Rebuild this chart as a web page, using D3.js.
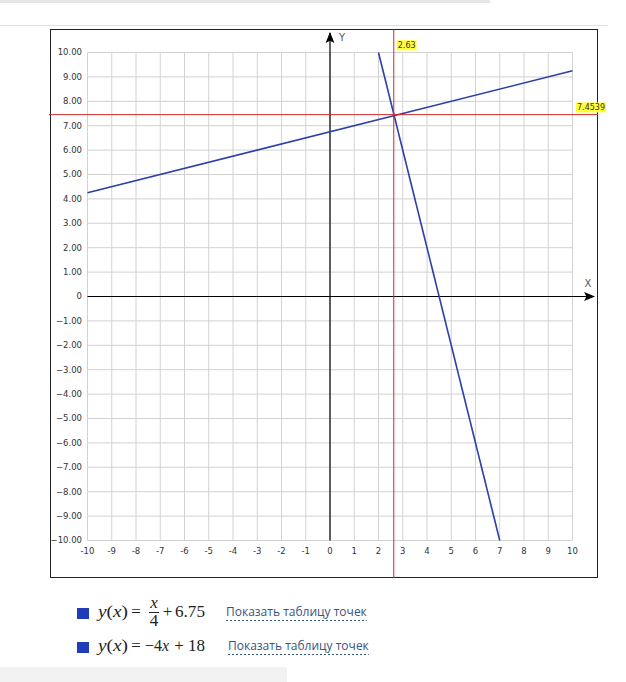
<!DOCTYPE html>
<html>
<head>
<meta charset="utf-8">
<script src="https://cdn.jsdelivr.net/npm/d3@7/dist/d3.min.js"></script>
<style>
  body { margin: 0; background: #fff; }
  svg { display: block; }
</style>
</head>
<body>
<svg id="chart" width="626" height="682"></svg>
<script>
// axis ranges and ticks
const xTicks = [-10, -9, -8, -7, -6, -5, -4, -3, -2, -1, 0, 1, 2, 3, 4, 5, 6, 7, 8, 9, 10];
const yTicks = [10, 9, 8, 7, 6, 5, 4, 3, 2, 1, 0, -1, -2, -3, -4, -5, -6, -7, -8, -9, -10];

// the two plotted functions (end points)
const line1 = [{ x: -10, y: 4.25 }, { x: 10, y: 9.25 }];
const line2 = [{ x: 2, y: 10 }, { x: 7, y: -10 }];

// crossing point markers
const crossX = 2.63;
const crossY = 7.4539;

const legendRows = ["y(x) = x/4 + 6.75", "y(x) = −4x + 18"];
const linkText = "Показать таблицу точек";

const svg = d3.select("#chart");

const x = d3.scaleLinear().domain([-10, 10]).range([87.5, 572.5]);
const y = d3.scaleLinear().domain([-10, 10]).range([540.5, 52.5]);

// page decorations
svg.append("rect").attr("x", 0).attr("y", 0).attr("width", 490).attr("height", 3).attr("fill", "#e6e6e6");
svg.append("line").attr("x1", 0).attr("x2", 608).attr("y1", 25.5).attr("y2", 25.5)
  .attr("stroke", "#e2e2e2");
svg.append("rect").attr("x", 0).attr("y", 667).attr("width", 287).attr("height", 15).attr("fill", "#f2f2f2");

// frame
svg.append("rect").attr("x", 50.5).attr("y", 29.5).attr("width", 547).attr("height", 548)
  .attr("fill", "#fff").attr("stroke", "#222").attr("stroke-width", 1);

const g = svg.append("g");

// grid
g.selectAll(".gx").data(xTicks).enter().append("line")
  .attr("x1", d => x(d)).attr("x2", d => x(d))
  .attr("y1", y(10)).attr("y2", y(-10))
  .attr("stroke", "#d2d2d2").attr("stroke-width", 1);
g.selectAll(".gy").data(yTicks).enter().append("line")
  .attr("y1", d => y(d)).attr("y2", d => y(d))
  .attr("x1", x(-10)).attr("x2", x(10))
  .attr("stroke", "#d2d2d2").attr("stroke-width", 1);

// tick labels
g.selectAll(".ty").data(yTicks).enter().append("text")
  .attr("x", 82).attr("y", d => y(d)).attr("dy", "0.35em")
  .attr("text-anchor", "end")
  .style("font", "8.5px 'DejaVu Sans', Verdana, sans-serif").attr("fill", "#333")
  .text(d => d === 0 ? "0" : d3.format(".2f")(d));
g.selectAll(".tx").data(xTicks).enter().append("text")
  .attr("x", d => x(d)).attr("y", 551).attr("dy", "0.35em")
  .attr("text-anchor", "middle")
  .style("font", "8.5px 'DejaVu Sans', Verdana, sans-serif").attr("fill", "#333")
  .text(d => d);

// axes with arrows
const defs = svg.append("defs");
defs.append("marker").attr("id", "arrow").attr("viewBox", "0 0 10 10")
  .attr("refX", 9).attr("refY", 5).attr("markerWidth", 11).attr("markerHeight", 11)
  .attr("markerUnits", "userSpaceOnUse").attr("orient", "auto")
  .append("path").attr("d", "M0,1 L10,5 L0,9 L2,5 Z").attr("fill", "#000");

g.append("line").attr("x1", x(-10)).attr("x2", 594).attr("y1", y(0)).attr("y2", y(0))
  .attr("stroke", "#000").attr("stroke-width", 1.2).attr("marker-end", "url(#arrow)");
g.append("line").attr("x1", x(0)).attr("x2", x(0)).attr("y1", y(-10)).attr("y2", 33)
  .attr("stroke", "#000").attr("stroke-width", 1.2).attr("marker-end", "url(#arrow)");

g.append("text").attr("x", 588).attr("y", 283).attr("dy", "0.35em").attr("text-anchor", "middle")
  .style("font", "10px 'DejaVu Sans', Verdana, sans-serif").attr("fill", "#555").text("X");
g.append("text").attr("x", 342).attr("y", 37).attr("dy", "0.35em").attr("text-anchor", "middle")
  .style("font", "10px 'DejaVu Sans', Verdana, sans-serif").attr("fill", "#555").text("Y");

// function lines
const lineGen = d3.line().x(d => x(d.x)).y(d => y(d.y));
[line1, line2].forEach(pts => {
  g.append("path").attr("d", lineGen(pts)).attr("fill", "none")
    .attr("stroke", "#2b3fa8").attr("stroke-width", 1.6);
});

// red crossing lines
g.append("line").attr("x1", x(crossX)).attr("x2", x(crossX)).attr("y1", 29.5).attr("y2", 578)
  .attr("stroke", "#d42a2a").attr("stroke-width", 1);
g.append("line").attr("x1", 49).attr("x2", 598).attr("y1", y(crossY)).attr("y2", y(crossY))
  .attr("stroke", "#d42a2a").attr("stroke-width", 1);

// yellow value labels
const tag = (tx, ty, txt) => {
  const t = g.append("text").attr("x", tx).attr("y", ty).attr("dy", "0.35em")
    .style("font", "8px 'DejaVu Sans', Verdana, sans-serif").attr("fill", "#333").text(txt);
  const b = t.node().getBBox();
  g.insert("rect", () => t.node())
    .attr("x", b.x - 1).attr("y", b.y - 0.5).attr("width", b.width + 2).attr("height", b.height + 1)
    .attr("fill", "#ffff33");
};
tag(x(crossX) + 4, 45, crossX.toFixed(2));
tag(577, y(crossY) - 7.5, String(crossY));

// legend
const lg = svg.append("g");
const serif = "'Liberation Serif', 'DejaVu Serif', serif";
const rowY = [617, 651];

legendRows.forEach((row, i) => {
  lg.append("rect").attr("x", 77).attr("y", rowY[i] - 9).attr("width", 12).attr("height", 11)
    .attr("fill", "#1f3db8");
});

// one math token placed at a given x
const tok = (tx, ty, txt, opts = {}) => {
  const t = lg.append("text").attr("x", tx).attr("y", ty)
    .style("font-family", serif).style("font-size", (opts.size || 17) + "px")
    .style("font-style", opts.italic ? "italic" : "normal")
    .attr("text-anchor", opts.anchor || "start").attr("fill", "#222");
  if (opts.len) t.attr("textLength", opts.len).attr("lengthAdjust", "spacingAndGlyphs");
  return t.text(txt);
};
const yOfX = (ty) => {
  const t = tok(98, ty, "", { len: 30 });
  t.append("tspan").style("font-style", "italic").text("y");
  t.append("tspan").text("(");
  t.append("tspan").style("font-style", "italic").text("x");
  t.append("tspan").text(")");
};

// row 1: y(x) = x/4 + 6.75
yOfX(rowY[0]);
tok(136, rowY[0], "=", { anchor: "middle" });
tok(154, 607.5, "x", { italic: true, anchor: "middle" });
lg.append("line").attr("x1", 149).attr("x2", 159).attr("y1", 612.5).attr("y2", 612.5)
  .attr("stroke", "#222").attr("stroke-width", 1);
tok(154, 626, "4", { anchor: "middle" });
tok(167.5, rowY[0], "+", { anchor: "middle" });
tok(175, rowY[0], "6.75", { len: 30 });

// row 2: y(x) = -4x + 18
yOfX(rowY[1]);
tok(136, rowY[1], "=", { anchor: "middle" });
const m = tok(145, rowY[1], "", { len: 24 });
m.append("tspan").text("−4");
m.append("tspan").style("font-style", "italic").text("x");
tok(179, rowY[1], "+", { anchor: "middle" });
tok(188, rowY[1], "18", { len: 17 });

// links with dashed underline
[226, 228].forEach((lx, i) => {
  const t = lg.append("text").attr("x", lx).attr("y", rowY[i] - 1)
    .style("font", "12px 'Open Sans', 'DejaVu Sans', sans-serif").attr("fill", "#34557f").text(linkText);
  const w = t.node().getComputedTextLength();
  lg.append("line").attr("x1", lx).attr("x2", lx + w).attr("y1", rowY[i] + 3.5).attr("y2", rowY[i] + 3.5)
    .attr("stroke", "#34557f").attr("stroke-width", 1).attr("stroke-dasharray", "2,2");
});
</script>
</body>
</html>
